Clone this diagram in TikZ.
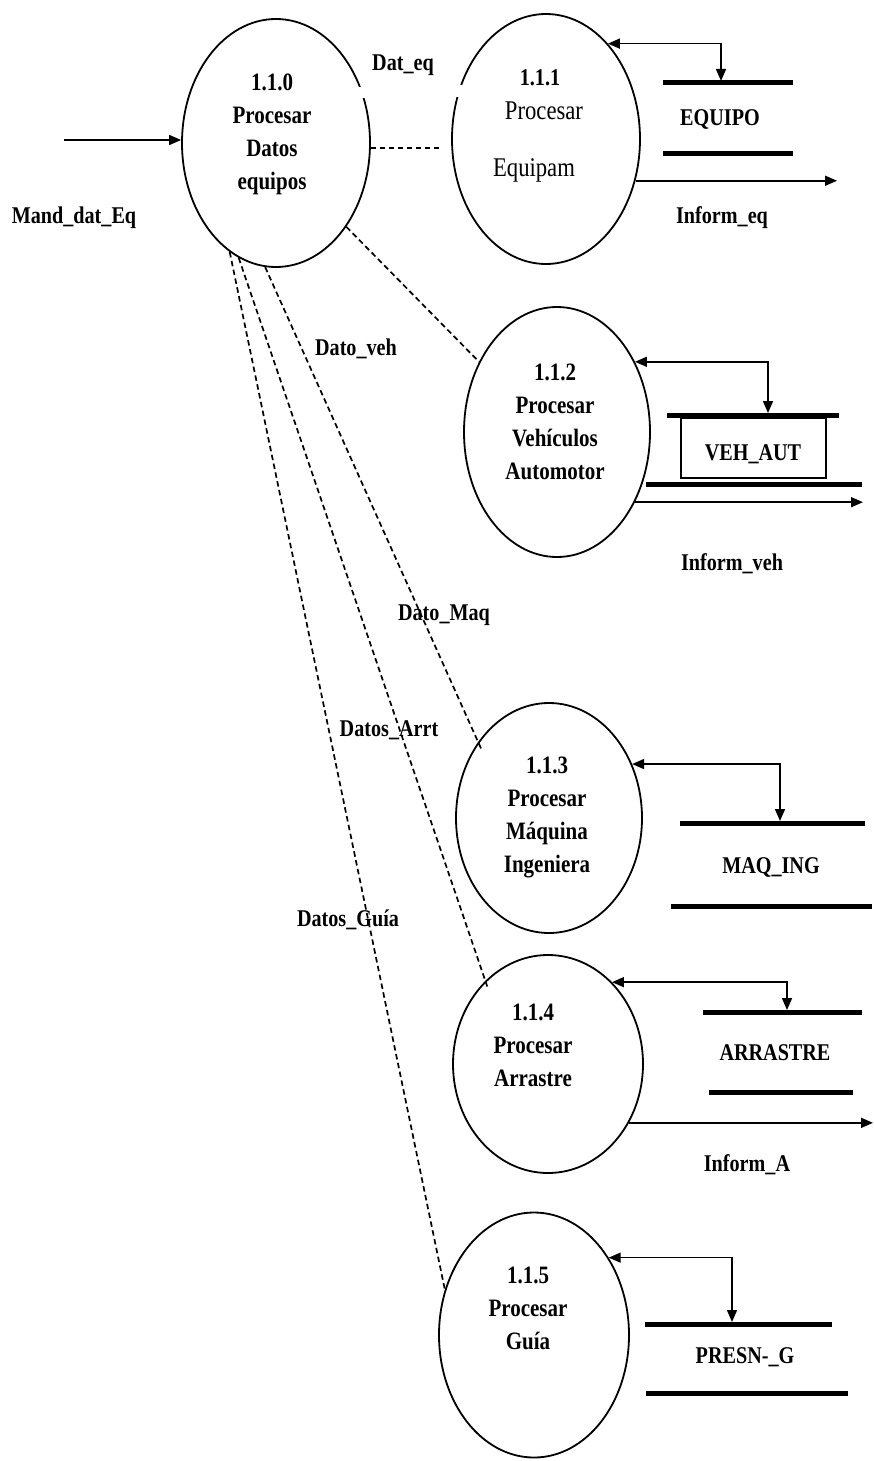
\documentclass[tikz,border=0pt]{standalone}
\usepackage{fontspec}
\setmainfont{Liberation Serif}[FakeStretch=0.84]
\usetikzlibrary{shapes.geometric,arrows.meta}
\begin{document}
\begin{tikzpicture}[x=1pt,y=-1pt,
  proc/.style={draw, ellipse, line width=1.8pt, inner sep=0pt},
  ptext/.style={font=\bfseries\fontsize{25}{33}\selectfont, align=center, inner sep=0pt},
  lbl/.style={font=\bfseries\fontsize{24}{28}\selectfont, inner sep=0pt, anchor=base},
  reg/.style={font=\fontsize{27}{30}\selectfont, inner sep=0pt, anchor=base},
  storeline/.style={line width=5pt},
  biflow/.style={line width=1.6pt, {Triangle[length=12pt,width=10pt]}-{Triangle[length=12pt,width=10pt]}},
  outflow/.style={line width=1.6pt, -{Triangle[length=12pt,width=10pt]}},
  dflow/.style={line width=1.7pt, dash pattern=on 5.5pt off 3.5pt}
]
\fill[white] (0,0) rectangle (873,1461);
\useasboundingbox (0,0) rectangle (873,1461);

% process bubbles
\node[proc, minimum width=188pt, minimum height=248pt] (c0) at (276,143) {};
\node[proc, minimum width=188pt, minimum height=250pt] (c1) at (546,139) {};
\node[proc, minimum width=186pt, minimum height=250pt] (c2) at (557,432) {};
\node[proc, minimum width=186pt, minimum height=230pt] (c3) at (549,818) {};
\node[proc, minimum width=190pt, minimum height=218pt] (c4) at (548,1064) {};
\node[proc, minimum width=190pt, minimum height=245pt] (c5) at (534,1335) {};

% small breaks in the outlines of 1.1.0 and 1.1.1
\fill[white] (357,87) rectangle (368,98);
\fill[white] (453,85) rectangle (464,97);

% bubble texts
\node[ptext, anchor=north] (t0) at (272,74) {1.1.0\\Procesar\\Datos\\equipos};
\node[lbl] (t1a) at (540,86) {1.1.1};
\node[reg] (t1b) at (544,120) {Procesar};
\node[reg] (t1c) at (534,176) {Equipam};
\node[ptext, anchor=north] (t2) at (555,364) {1.1.2\\Procesar\\Vehículos\\Automotor};
\node[ptext, anchor=north] (t3) at (547,757) {1.1.3\\Procesar\\Máquina\\Ingeniera};
\node[ptext, anchor=north] (t4) at (533,1004) {1.1.4\\Procesar\\Arrastre};
\node[ptext, anchor=north] (t5) at (528,1267) {1.1.5\\Procesar\\Guía};

% data stores
\draw[storeline] (663,83) -- (793,83);
\draw[storeline] (663,153) -- (793,153);
\node[lbl] (s1) at (720,126) {EQUIPO};
\coordinate (s1in) at (721,81);

\draw[storeline] (667,415) -- (839,415);
\draw[line width=1.8pt] (681,418) rectangle (826,478);
\draw[storeline] (646,484) -- (862,484);
\node[lbl] (s2) at (753,460) {VEH\_AUT};
\coordinate (s2in) at (768,413);

\draw[storeline] (680,823) -- (865,823);
\draw[storeline] (671,906) -- (872,906);
\node[lbl] (s3) at (771,873) {MAQ\_ING};
\coordinate (s3in) at (780,821);

\draw[storeline] (703,1012) -- (862,1012);
\draw[storeline] (709,1092) -- (853,1092);
\node[lbl] (s4) at (775,1060) {ARRASTRE};
\coordinate (s4in) at (787,1010);

\draw[storeline] (645,1324) -- (832,1324);
\draw[storeline] (646,1393) -- (848,1393);
\node[lbl] (s5) at (745,1363) {PRESN-\_G};
\coordinate (s5in) at (732,1322);

% store access
\draw[biflow] (c1.57.8) -| (s1in);
\draw[biflow] (c2.42) -| (s2in);
\draw[biflow] (c3.33) -| (s3in);
\draw[biflow] (c4.52.2) -| (s4in);
\draw[biflow] (c5.46.5) -| (s5in);

% external flows
\coordinate (in0) at (64,140);
\draw[outflow] (in0) -- (in0 -| c0.west);
\coordinate (o1) at (837,182);
\draw[outflow] (c1.-25.3) -- (c1.-25.3 -| o1);
\coordinate (o2) at (863,505);
\draw[outflow] (c2.-42.4) -- (c2.-42.4 -| o2);
\coordinate (o4) at (873,1129);
\draw[outflow] (c4.-36.8) -- (c4.-36.8 -| o4);

% dashed data flows from 1.1.0
\draw[dflow, shorten >=12pt] (c0.357) -- (c0.357 -| c1.west);
\draw[dflow] (c0.310.6) -- (c2.138.2);
\draw[dflow, shorten >=-8pt] (c0.265.6) -- (c3.133.6);
\draw[dflow, shorten >=-6pt] (c0.252.6) -- (c4.127.2);
\draw[dflow] (c0.247.5) -- (c5.153);

% flow labels
\node[lbl] (l0) at (74,223) {Mand\_dat\_Eq};
\node[lbl] (l1) at (403,71) {Dat\_eq};
\node[lbl] (l2) at (722,223) {Inform\_eq};
\node[lbl] (l3) at (356,355) {Dato\_veh};
\node[lbl] (l4) at (732,570) {Inform\_veh};
\node[lbl] (l5) at (444,620) {Dato\_Maq};
\node[lbl] (l6) at (389,736) {Datos\_Arrt};
\node[lbl] (l7) at (348,926) {Datos\_Guía};
\node[lbl] (l8) at (747,1171) {Inform\_A};
\end{tikzpicture}
\end{document}
